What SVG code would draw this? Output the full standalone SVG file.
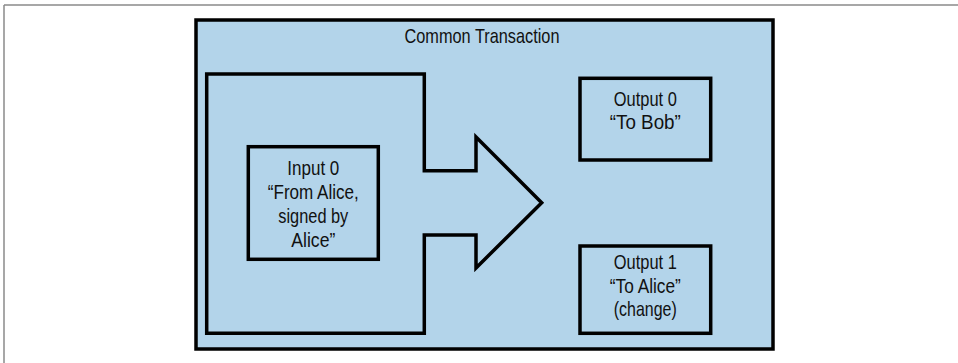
<svg xmlns="http://www.w3.org/2000/svg" width="958" height="363" viewBox="0 0 958 363">
<style>
.box{fill:#b3d4ea;stroke:#000;stroke-width:3.5;stroke-linejoin:miter}
.t{font-family:"Liberation Sans",Arial,sans-serif;font-size:21px;fill:#111;text-anchor:middle}
</style>
<rect width="958" height="363" fill="#fff"/>
<g id="frame" fill="none" stroke="#8a8a8a" stroke-width="1.5">
<line x1="4" y1="5" x2="958" y2="5"/>
<line x1="4" y1="5" x2="4" y2="363"/>
</g>
<g id="transaction">
<rect class="box" x="196" y="20" width="577" height="329" stroke-width="4.5"/>
<text class="t" x="482" y="43" textLength="155" lengthAdjust="spacingAndGlyphs">Common Transaction</text>
</g>
<g id="connectors">
<path id="arrow" class="box" fill="none" d="M206.7,74 H424.3 V170.7 H476 V137 L541.7,202.7 L476,268 V235 H424.3 V333.3 H206.7 Z"/>
</g>
<g id="input0">
<rect class="box" x="248.3" y="146.7" width="130" height="112.6"/>
<text class="t" x="313.3" y="175" textLength="52" lengthAdjust="spacingAndGlyphs">Input 0</text>
<text class="t" x="313.3" y="199" textLength="91" lengthAdjust="spacingAndGlyphs">“From Alice,</text>
<text class="t" x="313.3" y="223" textLength="70" lengthAdjust="spacingAndGlyphs">signed by</text>
<text class="t" x="313.3" y="247" textLength="44" lengthAdjust="spacingAndGlyphs">Alice”</text>
</g>
<g id="output0">
<rect class="box" x="580" y="78.3" width="130.7" height="81.7"/>
<text class="t" x="645.3" y="106" textLength="63" lengthAdjust="spacingAndGlyphs">Output 0</text>
<text class="t" x="645.3" y="129" textLength="71" lengthAdjust="spacingAndGlyphs">“To Bob”</text>
</g>
<g id="output1">
<rect class="box" x="580" y="246" width="130.7" height="87.3"/>
<text class="t" x="645.3" y="269" textLength="63" lengthAdjust="spacingAndGlyphs">Output 1</text>
<text class="t" x="645.3" y="292.5" textLength="71" lengthAdjust="spacingAndGlyphs">“To Alice”</text>
<text class="t" x="645.3" y="316" textLength="63" lengthAdjust="spacingAndGlyphs">(change)</text>
</g>
</svg>
